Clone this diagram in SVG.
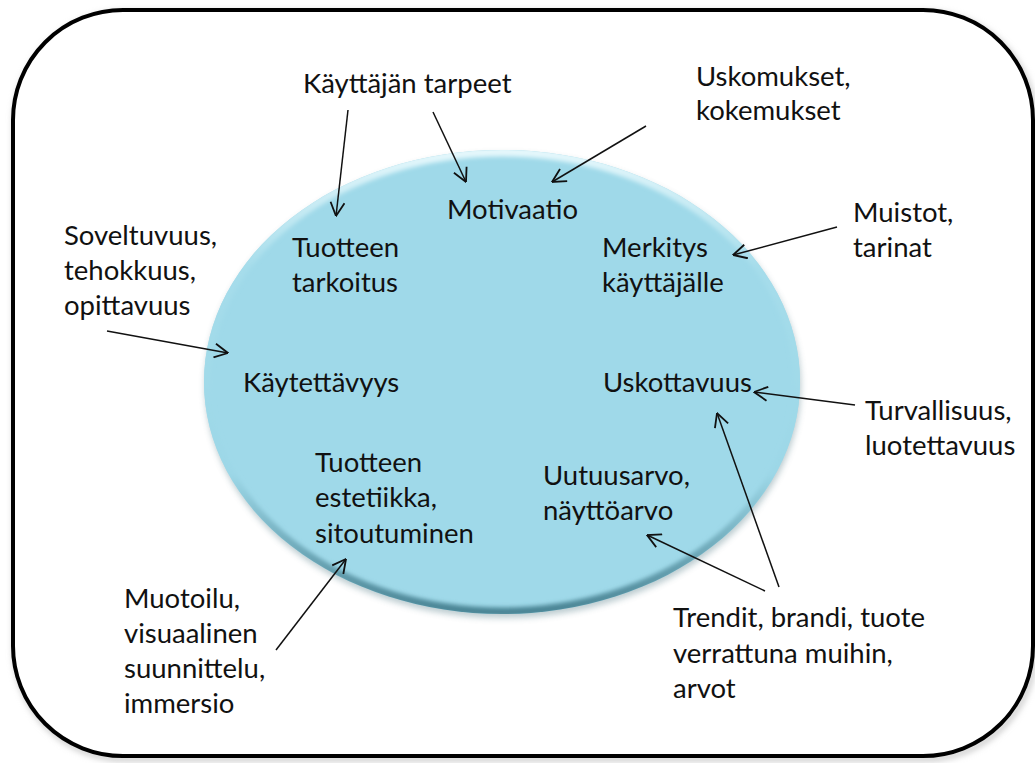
<svg xmlns="http://www.w3.org/2000/svg" width="1035" height="763" viewBox="0 0 1035 763">
  <style>
    text { font-family: Lato, "Open Sans", "Liberation Sans", sans-serif; font-size: 27.5px; fill: #111; }
    .conn { stroke: #111; stroke-width: 1.5; fill: none; marker-end: url(#arr); }
  </style>
  <defs>
    <marker id="arr" viewBox="0 0 15 16" refX="14.5" refY="8" markerUnits="userSpaceOnUse" markerWidth="15" markerHeight="16" orient="auto">
      <path d="M1,1 L14.5,8 L1,15" fill="none" stroke="#111" stroke-width="1.8"/>
    </marker>
    <linearGradient id="rim" x1="0" y1="0" x2="0" y2="1">
      <stop offset="0" stop-color="#E6F8FC"/>
      <stop offset="0.25" stop-color="#A6DDEB"/>
      <stop offset="0.7" stop-color="#9CD7E7"/>
      <stop offset="1" stop-color="#4A8494"/>
    </linearGradient>
    <clipPath id="ellclip">
      <ellipse cx="502" cy="382" rx="298" ry="232"/>
    </clipPath>
    <filter id="blur2" x="-10%" y="-10%" width="120%" height="120%">
      <feGaussianBlur stdDeviation="2"/>
    </filter>
    <filter id="shadow" x="-10%" y="-10%" width="120%" height="120%">
      <feGaussianBlur stdDeviation="3"/>
    </filter>
  </defs>

  <!-- frame -->
  <rect x="15" y="13" width="1020" height="746" rx="110" fill="none" stroke="#bbb" stroke-width="4" filter="url(#shadow)"/>
  <rect x="13" y="10" width="1020" height="746" rx="110" fill="#fff" stroke="#000" stroke-width="4"/>

  <!-- ellipse -->
  <g id="circle">
    <ellipse cx="503" cy="386" rx="298" ry="232" fill="#6b8d96" opacity="0.45" filter="url(#shadow)"/>
    <ellipse cx="502" cy="382" rx="298" ry="232" fill="#9FD9E9"/>
    <g clip-path="url(#ellclip)">
      <ellipse cx="502" cy="382" rx="296" ry="230" fill="none" stroke="url(#rim)" stroke-width="9" filter="url(#blur2)"/>
    </g>
  </g>

  <!-- connectors -->
  <g id="connectors">
    <line class="conn" x1="348" y1="110" x2="336" y2="216"/>
    <line class="conn" x1="433" y1="112" x2="466" y2="182"/>
    <line class="conn" x1="646" y1="126" x2="552" y2="182"/>
    <line class="conn" x1="837" y1="227" x2="733" y2="255"/>
    <line class="conn" x1="107" y1="331" x2="228" y2="353"/>
    <line class="conn" x1="855" y1="405" x2="754" y2="392"/>
    <line class="conn" x1="779" y1="587" x2="717" y2="413"/>
    <line class="conn" x1="765" y1="591" x2="647" y2="535"/>
    <line class="conn" x1="276" y1="650" x2="346" y2="559"/>
  </g>

  <!-- inner nodes -->
  <g id="motivaatio"><text x="447" y="219">Motivaatio</text></g>
  <g id="tarkoitus"><text x="292" y="257">Tuotteen</text><text x="292" y="292">tarkoitus</text></g>
  <g id="merkitys"><text x="602" y="257">Merkitys</text><text x="602" y="292">käyttäjälle</text></g>
  <g id="kaytettavyys"><text x="243" y="392">Käytettävyys</text></g>
  <g id="uskottavuus"><text x="603" y="392">Uskottavuus</text></g>
  <g id="estetiikka"><text x="315" y="472">Tuotteen</text><text x="315" y="507">estetiikka,</text><text x="315" y="543">sitoutuminen</text></g>
  <g id="uutuusarvo"><text x="543" y="485">Uutuusarvo,</text><text x="543" y="520">näyttöarvo</text></g>

  <!-- outer nodes -->
  <g id="tarpeet"><text x="303" y="93">Käyttäjän tarpeet</text></g>
  <g id="uskomukset"><text x="696" y="86">Uskomukset,</text><text x="696" y="120">kokemukset</text></g>
  <g id="muistot"><text x="853" y="222">Muistot,</text><text x="853" y="257">tarinat</text></g>
  <g id="soveltuvuus"><text x="64" y="245">Soveltuvuus,</text><text x="64" y="280">tehokkuus,</text><text x="64" y="315">opittavuus</text></g>
  <g id="turvallisuus"><text x="865" y="420">Turvallisuus,</text><text x="865" y="455">luotettavuus</text></g>
  <g id="muotoilu"><text x="124" y="608">Muotoilu,</text><text x="124" y="643">visuaalinen</text><text x="124" y="678">suunnittelu,</text><text x="124" y="713">immersio</text></g>
  <g id="trendit"><text x="673" y="627">Trendit, brandi, tuote</text><text x="673" y="663">verrattuna muihin,</text><text x="673" y="698">arvot</text></g>
</svg>
